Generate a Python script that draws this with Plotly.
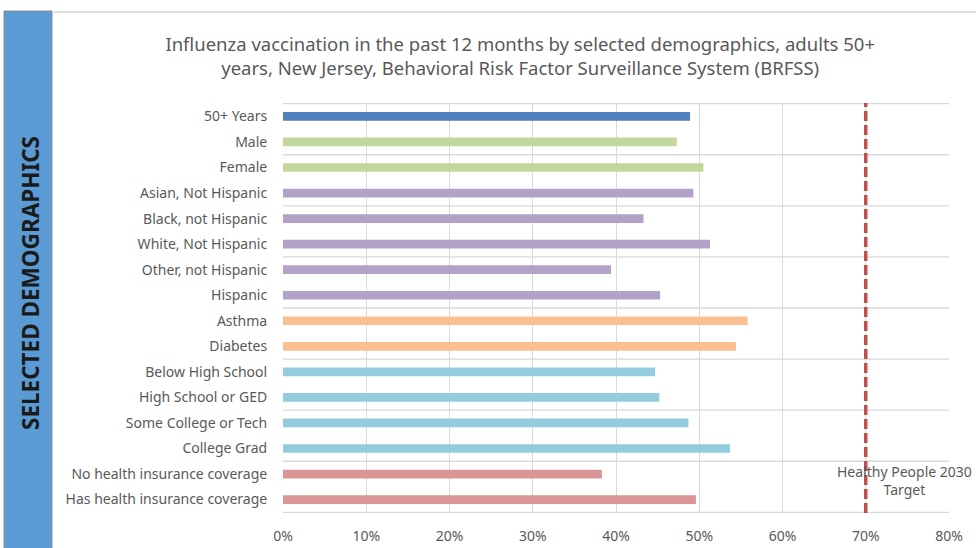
import plotly.graph_objects as go

categories = ["50+ Years", "Male", "Female", "Asian, Not Hispanic", "Black, not Hispanic",
              "White, Not Hispanic", "Other, not Hispanic", "Hispanic", "Asthma", "Diabetes",
              "Below High School", "High School or GED", "Some College or Tech", "College Grad",
              "No health insurance coverage", "Has health insurance coverage"]
values = [48.9, 47.3, 50.5, 49.3, 43.3, 51.3, 39.4, 45.3, 55.8, 54.4,
          44.7, 45.2, 48.7, 53.7, 38.3, 49.6]
groups = ["all", "sex", "sex", "race", "race", "race", "race", "race", "cond", "cond",
          "edu", "edu", "edu", "edu", "ins", "ins"]
group_colors = {"all": "#4F81BD", "sex": "#C3D69B", "race": "#B3A2C7",
                "cond": "#FAC090", "edu": "#93CDDD", "ins": "#D99694"}
target = 70
x_ticks = [0, 10, 20, 30, 40, 50, 60, 70, 80]

FONT = "Noto Sans"
GREY = "#595959"

fig = go.Figure()
fig.add_trace(go.Bar(
    x=values, y=categories, orientation="h",
    marker=dict(color=[group_colors[g] for g in groups], line=dict(width=0)),
    width=0.34, hoverinfo="x+y",
))

# horizontal gridlines every two categories
for b in range(-1, len(categories), 2):
    fig.add_shape(type="line", xref="paper", x0=0, x1=1, yref="y",
                  y0=b + 0.5, y1=b + 0.5, line=dict(color="#D9D9D9", width=1.3), layer="below")

fig.add_vline(x=target, line=dict(color="#C0504D", width=3.5, dash="10px,4px"))

# left blue band
fig.add_shape(type="rect", xref="paper", yref="paper",
              x0=(4 - 283) / 666, x1=(52 - 283) / 666, y0=(513 - 560) / 410, y1=(513 - 11) / 410,
              fillcolor="#5B9BD5", line=dict(color="#8C8C8C", width=1), layer="above")
fig.add_shape(type="line", xref="paper", yref="paper",
              x0=(54 - 283) / 666, x1=(990 - 283) / 666, y0=(513 - 12) / 410, y1=(513 - 12) / 410,
              line=dict(color="#D0D0D0", width=1.5))
fig.add_annotation(text="<b>SELECTED DEMOGRAPHICS</b>", textangle=-90, showarrow=False,
                   xref="paper", yref="paper", x=(30 - 283) / 666, y=(513 - 283) / 410,
                   xanchor="center", yanchor="middle",
                   font=dict(family=FONT, size=22.5, color="#1a1a1a"))

fig.add_annotation(text="Healthy People 2030<br>Target", showarrow=False,
                   xref="x", yref="paper", x=74.6, y=(513 - 480) / 410,
                   xanchor="center", yanchor="middle",
                   font=dict(family=FONT, size=14, color=GREY), align="center")

fig.update_layout(
    width=976, height=548,
    margin=dict(l=283, r=27, t=103, b=35),
    paper_bgcolor="white", plot_bgcolor="white",
    showlegend=False,
    title=dict(text="Influenza vaccination in the past 12 months by selected demographics, adults 50+<br>years, New Jersey, Behavioral Risk Factor Surveillance System (BRFSS)",
               xref="container", yref="container", x=0.533, y=1 - 50.5 / 548,
               xanchor="center", yanchor="middle",
               font=dict(family=FONT, size=18.5, color=GREY)),
    xaxis=dict(range=[0, 80], tickvals=x_ticks, ticktext=[f"{v}%" for v in x_ticks],
               showgrid=True, gridcolor="#D9D9D9", gridwidth=1.3, zeroline=False,
               showline=False, ticks="outside", ticklen=10, tickcolor="rgba(0,0,0,0)",
               tickfont=dict(family=FONT, size=14, color=GREY), automargin=False),
    yaxis=dict(categoryorder="array", categoryarray=categories, autorange="reversed",
               showgrid=False, zeroline=False, showline=False,
               ticks="outside", ticklen=12, tickcolor="rgba(0,0,0,0)",
               tickfont=dict(family=FONT, size=14, color=GREY), automargin=False),
    bargap=0.66,
)

fig.write_html("out.html", config={"displayModeBar": False},
               post_script="document.body.style.margin='0';document.body.style.overflow='hidden';")
